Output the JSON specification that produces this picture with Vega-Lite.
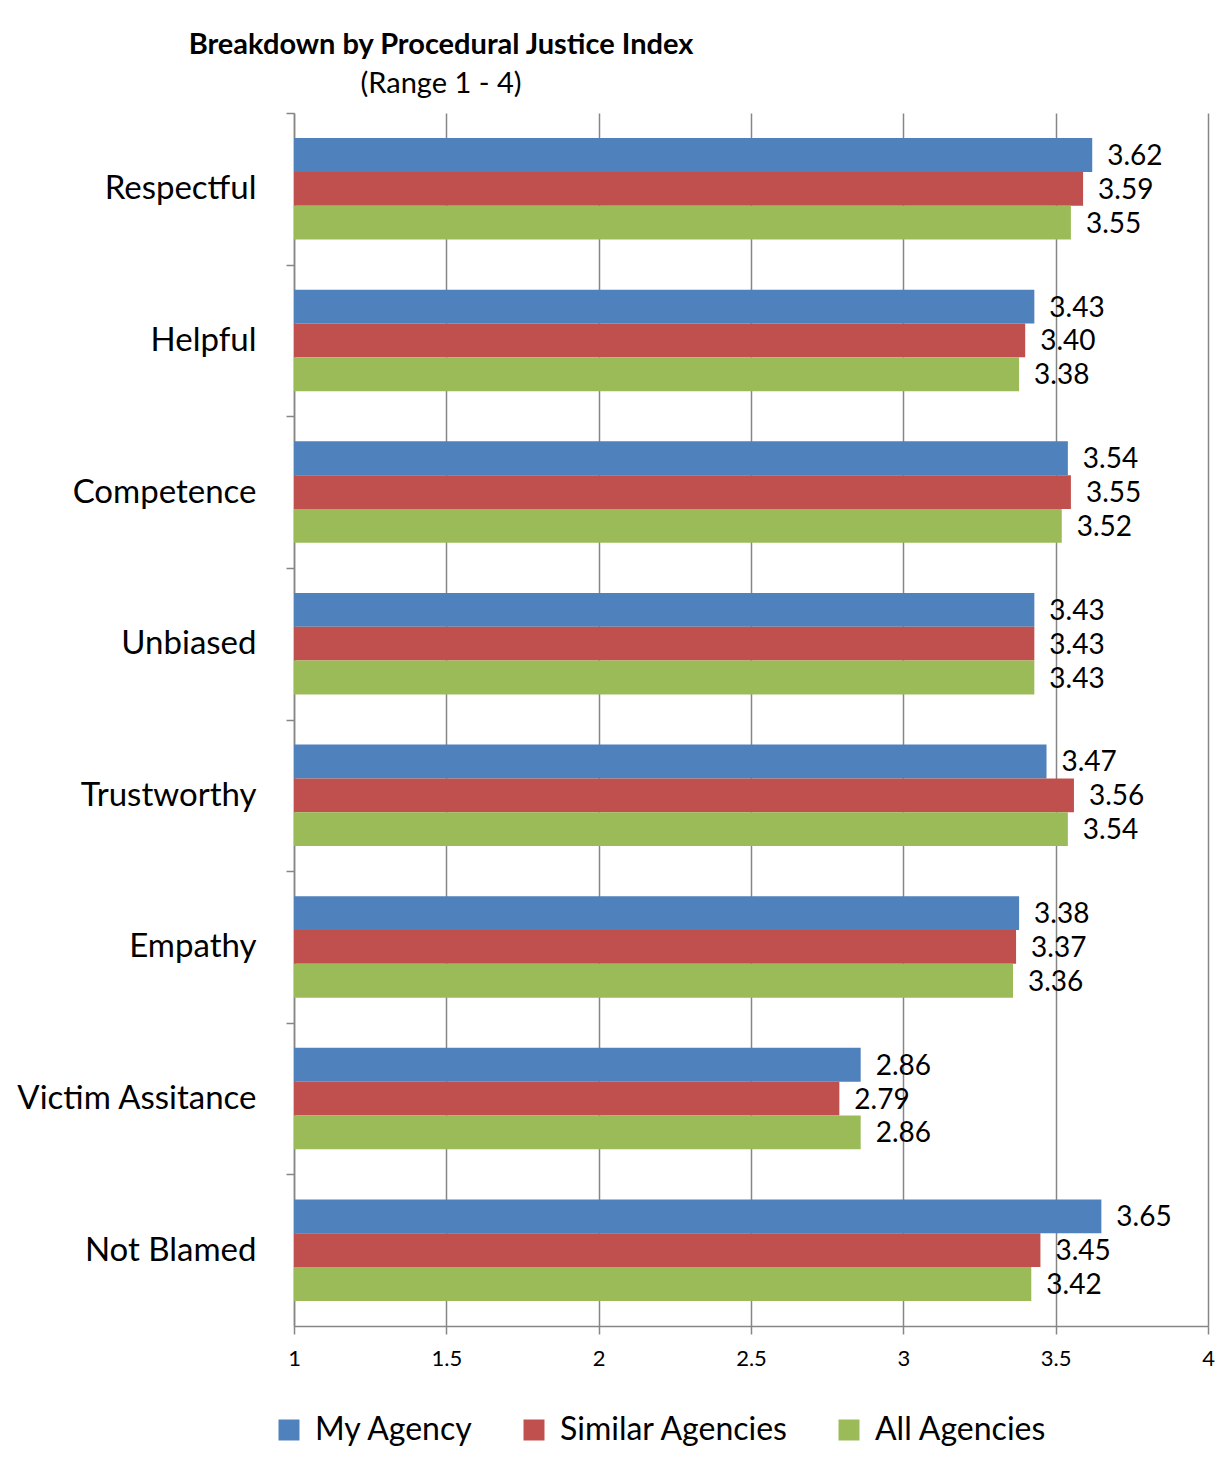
{
  "$schema": "https://vega.github.io/schema/vega-lite/v6.json",
  "autosize": {"type": "none"},
  "width": 914,
  "height": 1213,
  "padding": {"left": 294, "top": 113, "right": 15, "bottom": 141},
  "background": "white",
  "title": {
    "text": "Breakdown by Procedural Justice Index",
    "subtitle": "(Range 1 - 4)",
    "anchor": "start",
    "frame": "group",
    "align": "center",
    "dx": 147,
    "offset": 13,
    "font": "Lato",
    "fontSize": 29,
    "fontWeight": "bold",
    "color": "black",
    "subtitleFont": "Lato",
    "subtitleFontSize": 29,
    "subtitleColor": "black",
    "subtitlePadding": 10
  },
  "config": {
    "view": {"stroke": null},
    "font": "Lato"
  },
  "data": {
    "values": [
      {"category": "Respectful", "series": "My Agency", "value": 3.62},
      {"category": "Respectful", "series": "Similar Agencies", "value": 3.59},
      {"category": "Respectful", "series": "All Agencies", "value": 3.55},
      {"category": "Helpful", "series": "My Agency", "value": 3.43},
      {"category": "Helpful", "series": "Similar Agencies", "value": 3.40},
      {"category": "Helpful", "series": "All Agencies", "value": 3.38},
      {"category": "Competence", "series": "My Agency", "value": 3.54},
      {"category": "Competence", "series": "Similar Agencies", "value": 3.55},
      {"category": "Competence", "series": "All Agencies", "value": 3.52},
      {"category": "Unbiased", "series": "My Agency", "value": 3.43},
      {"category": "Unbiased", "series": "Similar Agencies", "value": 3.43},
      {"category": "Unbiased", "series": "All Agencies", "value": 3.43},
      {"category": "Trustworthy", "series": "My Agency", "value": 3.47},
      {"category": "Trustworthy", "series": "Similar Agencies", "value": 3.56},
      {"category": "Trustworthy", "series": "All Agencies", "value": 3.54},
      {"category": "Empathy", "series": "My Agency", "value": 3.38},
      {"category": "Empathy", "series": "Similar Agencies", "value": 3.37},
      {"category": "Empathy", "series": "All Agencies", "value": 3.36},
      {"category": "Victim Assitance", "series": "My Agency", "value": 2.86},
      {"category": "Victim Assitance", "series": "Similar Agencies", "value": 2.79},
      {"category": "Victim Assitance", "series": "All Agencies", "value": 2.86},
      {"category": "Not Blamed", "series": "My Agency", "value": 3.65},
      {"category": "Not Blamed", "series": "Similar Agencies", "value": 3.45},
      {"category": "Not Blamed", "series": "All Agencies", "value": 3.42}
    ]
  },
  "encoding": {
    "y": {
      "field": "category",
      "type": "nominal",
      "sort": null,
      "scale": {"paddingInner": 0.33, "paddingOuter": 0.165},
      "axis": {
        "title": null,
        "labelFont": "Lato",
        "labelFontSize": 33,
        "labelColor": "black",
        "labelPadding": 30,
        "labelLimit": 400,
        "tickOffset": -75.8,
        "labelOffset": 75.8,
        "tickSize": 8,
        "tickColor": "#868686",
        "domainColor": "#868686",
        "domainWidth": 1.5,
        "tickWidth": 1.5
      }
    },
    "yOffset": {
      "field": "series",
      "type": "nominal",
      "sort": ["My Agency", "Similar Agencies", "All Agencies"],
      "scale": {"paddingInner": 0, "paddingOuter": 0}
    },
    "x": {
      "field": "value",
      "type": "quantitative",
      "scale": {"domain": [1, 4], "zero": false, "nice": false},
      "axis": {
        "title": null,
        "values": [1, 1.5, 2, 2.5, 3, 3.5, 4],
        "format": "~g",
        "labelFont": "Lato",
        "labelFontSize": 22,
        "labelColor": "black",
        "labelPadding": 14,
        "labelFlush": false,
        "tickSize": 8,
        "tickColor": "#868686",
        "tickWidth": 1.5,
        "domainColor": "#868686",
        "domainWidth": 1.5,
        "grid": true,
        "gridColor": "#868686",
        "gridWidth": 1.5
      }
    }
  },
  "layer": [
    {
      "mark": {"type": "bar"},
      "encoding": {
        "x2": {"datum": 1},
        "color": {
          "field": "series",
          "type": "nominal",
          "sort": ["My Agency", "Similar Agencies", "All Agencies"],
          "scale": {
            "domain": ["My Agency", "Similar Agencies", "All Agencies"],
            "range": ["#4F81BD", "#C0504D", "#9BBB59"]
          },
          "legend": {
            "title": null,
            "orient": "none",
            "direction": "horizontal",
            "legendX": -21,
            "legendY": 1301,
            "symbolType": "square",
            "symbolSize": 440,
            "symbolStrokeWidth": 0,
            "labelFont": "Lato",
            "labelFontSize": 32,
            "labelColor": "black",
            "labelOffset": 10,
            "labelLimit": 400,
            "columnPadding": 44
          }
        }
      }
    },
    {
      "mark": {
        "type": "text",
        "align": "left",
        "baseline": "middle",
        "dx": 15,
        "dy": 2,
        "font": "Lato",
        "fontSize": 28,
        "color": "black"
      },
      "encoding": {
        "text": {"field": "value", "type": "quantitative", "format": ".2f"}
      }
    }
  ]
}
